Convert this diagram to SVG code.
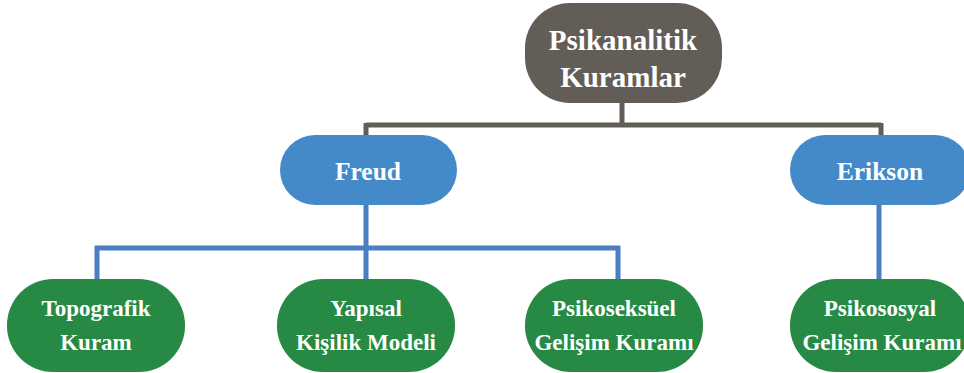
<svg xmlns="http://www.w3.org/2000/svg" width="964" height="373" viewBox="0 0 964 373">
<style>
.t{font-family:"Liberation Serif","Times New Roman",serif;font-weight:bold;fill:#ffffff;text-anchor:middle}
.top{fill:#625e57}
.mid{fill:#4489c8}
.bot{fill:#268a44}
.cg{stroke:#625e57;stroke-width:5;fill:none}
.cb{stroke:#4a7fc4;stroke-width:5;fill:none}
</style>
<rect width="964" height="373" fill="#ffffff"/>
<g id="connectors">
<path class="cg" d="M622 100 V125 M366 125 H881 M366 123 V137 M881 123 V137"/>
<path class="cb" d="M366 204 V248 M95 248 H620 M97 246 V281 M366 246 V281 M618 246 V281 M879 204 V281"/>
</g>
<g id="psikanalitik">
<rect class="top" x="525" y="3" width="197" height="100" rx="45"/>
<text class="t" x="623" y="50" font-size="29">Psikanalitik</text>
<text class="t" x="623" y="87" font-size="29">Kuramlar</text>
</g>
<g id="freud">
<rect class="mid" x="280" y="135" width="177" height="70" rx="35"/>
<text class="t" x="368" y="180" font-size="25.5">Freud</text>
</g>
<g id="erikson">
<rect class="mid" x="790" y="135" width="180" height="70" rx="35"/>
<text class="t" x="880" y="180" font-size="25.5">Erikson</text>
</g>
<g id="topografik">
<rect class="bot" x="7" y="279" width="178" height="93" rx="46"/>
<text class="t" x="96" y="316" font-size="23">Topografik</text>
<text class="t" x="96" y="350" font-size="23">Kuram</text>
</g>
<g id="yapisal">
<rect class="bot" x="277" y="279" width="178" height="93" rx="46"/>
<text class="t" x="366" y="316" font-size="23">Yapısal</text>
<text class="t" x="366" y="350" font-size="23">Kişilik Modeli</text>
</g>
<g id="psikoseksuel">
<rect class="bot" x="525" y="279" width="178" height="93" rx="46"/>
<text class="t" x="614" y="316" font-size="23">Psikoseksüel</text>
<text class="t" x="614" y="350" font-size="23">Gelişim Kuramı</text>
</g>
<g id="psikososyal">
<rect class="bot" x="790" y="279" width="180" height="93" rx="46"/>
<text class="t" x="880" y="316" font-size="23">Psikososyal</text>
<text class="t" x="882" y="350" font-size="23">Gelişim Kuramı</text>
</g>
</svg>
